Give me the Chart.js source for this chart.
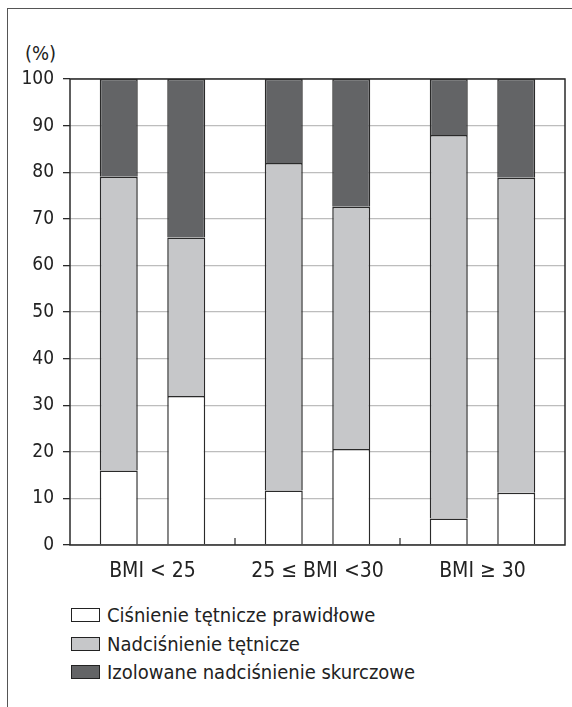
<!DOCTYPE html>
<html>
<head>
<meta charset="utf-8">
<script src="https://cdn.jsdelivr.net/npm/chart.js@4.4.1/dist/chart.umd.min.js"></script>
<style>
body{margin:0;background:#fff;}
#wrap{position:relative;width:572px;height:707px;overflow:hidden;
font-family:"Liberation Sans Narrow","DejaVu Sans Condensed","Arial Narrow",sans-serif;color:#222;}
#frame{position:absolute;left:7px;top:8px;right:-5px;bottom:-5px;
border-top:1.5px solid #555;border-left:1.5px solid #555;}
#unit{position:absolute;left:25px;top:41px;font-size:20px;}
#chartBox{position:absolute;left:0;top:0;width:572px;height:600px;}
#legend{position:absolute;left:71px;top:601px;font-size:20px;}
.row{height:28.5px;display:flex;align-items:center;}
.box{width:27px;height:12px;border:1.5px solid #222;margin-right:7px;}
</style>
</head>
<body>
<div id="wrap">
<div id="frame"></div>
<div id="unit">(%)</div>
<div id="chartBox"><canvas id="bmiChart"></canvas></div>
<div id="legend"></div>
</div>
<script>

const categories = ["BMI < 25", "25 \u2264 BMI <30", "BMI \u2265 30"];

const seriesNames = [
"Ciśnienie tętnicze prawidłowe",
"Nadciśnienie tętnicze",
"Izolowane nadciśnienie skurczowe"
];

// first bar in each group
const normalA = [16, 11.7, 5.7];
const hyperA = [63, 70.3, 82.3];
const isolatedA = [21, 18, 12];

// second bar in each group
const normalB = [32, 20.6, 11.2];
const hyperB = [34, 52, 67.6];
const isolatedB = [34, 27.4, 21.2];

const yTicks = [0, 10, 20, 30, 40, 50, 60, 70, 80, 90, 100];

const colors = ["#ffffff", "#c6c7c9", "#636466"];

const font = "'Liberation Sans Narrow','DejaVu Sans Condensed','Arial Narrow',sans-serif";

function ds(label, data, color, stack){
return {
label: label,
data: data,
stack: stack,
backgroundColor: color,
borderColor: "#2a2a2a",
borderWidth: 1.5,
categoryPercentage: 0.818,
barPercentage: 0.563
};
}

const frameLines = {
id: "frameLines",
afterDatasetsDraw(chart){
const a = chart.chartArea;
const x = chart.scales.x;
const c = chart.ctx;
c.save();
c.strokeStyle = "#2a2a2a";
c.lineWidth = 1.5;
c.strokeRect(a.left, a.top, a.right - a.left, a.bottom - a.top);
// small ticks between groups
const half = (x.getPixelForValue(1) - x.getPixelForValue(0)) / 2;
c.lineWidth = 1.2;
for(let i = 0; i < categories.length - 1; i++){
const px = x.getPixelForValue(i) + half;
c.beginPath();
c.moveTo(px, a.bottom);
c.lineTo(px, a.bottom - 7);
c.stroke();
}
c.restore();
}
};

const chart = new Chart(document.getElementById("bmiChart"), {
type: "bar",
data: {
labels: categories,
datasets: [
ds(seriesNames[0], normalA, colors[0], "a"),
ds(seriesNames[1], hyperA, colors[1], "a"),
ds(seriesNames[2], isolatedA, colors[2], "a"),
ds(seriesNames[0], normalB, colors[0], "b"),
ds(seriesNames[1], hyperB, colors[1], "b"),
ds(seriesNames[2], isolatedB, colors[2], "b")
]
},
options: {
responsive: true,
maintainAspectRatio: false,
animation: false,
layout: {
padding: {top: 79, right: 7, left: 0, bottom: 0}
},
plugins: {
legend: {display: false},
tooltip: {enabled: false}
},
scales: {
x: {
stacked: true,
grid: {display: false},
border: {display: false},
ticks: {
color: "#222",
padding: 6,
font: {family: font, size: 21}
},
afterFit(scale){ scale.height = 55; }
},
y: {
stacked: true,
min: 0,
max: 100,
afterBuildTicks(scale){
scale.ticks = yTicks.map(v => ({value: v}));
},
grid: {
color: "#bdbdbd",
lineWidth: 1.3,
tickColor: "#2a2a2a",
tickLength: 7
},
border: {display: false},
ticks: {
color: "#222",
padding: 9,
font: {family: font, size: 19}
},
afterFit(scale){ scale.width = 70; }
}
}
},
plugins: [frameLines]
});

// legend as text, one row per series
const legend = document.getElementById("legend");
seriesNames.forEach((name, i)=>{
const row = document.createElement("div");
row.className = "row";
const box = document.createElement("div");
box.className = "box";
box.style.background = colors[i];
row.appendChild(box);
const t = document.createElement("span");
t.textContent = name;
row.appendChild(t);
legend.appendChild(row);
});

</script>
</body>
</html>
